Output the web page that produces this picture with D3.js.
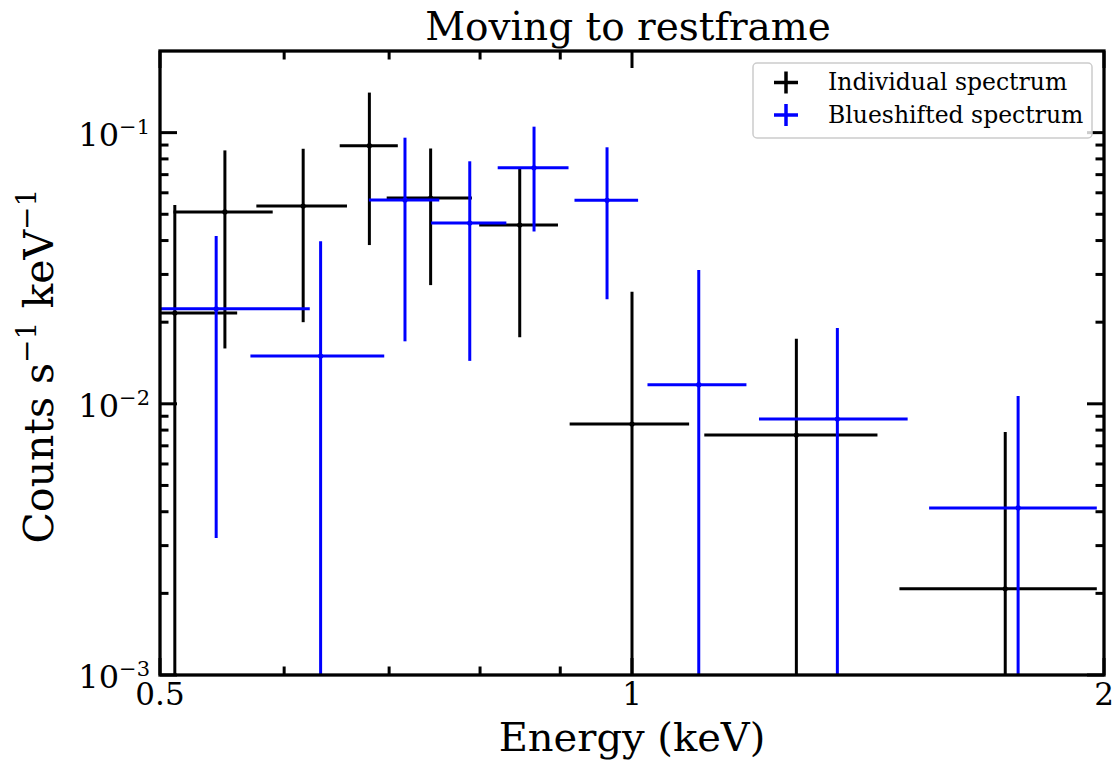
<!DOCTYPE html>
<html><head><meta charset="utf-8">
<script src="https://cdn.jsdelivr.net/npm/d3@7"></script>
<style>
body{margin:0;background:#fff}
svg{display:block}
text{font-family:"DejaVu Serif",serif;fill:#000}
</style>
</head><body>
<svg id="chart" width="1117" height="761"></svg>
<script>
// ---- data ----
const indivEnergy    = [0.511, 0.550, 0.617, 0.680, 0.744, 0.848, 1.000, 1.273, 1.730];
const indivEnergyErr = [0.049, 0.040, 0.041, 0.029, 0.0465, 0.049, 0.0875, 0.161, 0.249];
const indivCounts    = [0.0216, 0.0510, 0.0536, 0.0895, 0.0574, 0.0456, 0.00842, 0.00767, 0.00208];
const indivCountsErr = [0.0325, 0.035, 0.0336, 0.051, 0.030, 0.028, 0.0175, 0.0097, 0.0058];

const blueEnergy    = [0.543, 0.633, 0.7165, 0.788, 0.866, 0.964, 1.103, 1.352, 1.763];
const blueEnergyErr = [0.080, 0.062, 0.037, 0.0435, 0.045, 0.045, 0.080, 0.147, 0.216];
const blueCounts    = [0.0224, 0.0150, 0.0564, 0.0464, 0.0742, 0.0563, 0.01176, 0.00879, 0.00413];
const blueCountsErr = [0.0192, 0.0248, 0.0394, 0.032, 0.031, 0.032, 0.0194, 0.01025, 0.00656];

const seriesNames  = ["Individual spectrum", "Blueshifted spectrum"];
const seriesColors = ["#000000", "#0000ff"];

const xTickValues = [0.5, 1, 2];
const xTickLabels = ["0.5", "1", "2"];
const xMinorTicks = [0.6, 0.7, 0.8, 0.9];
const yMajorTicks = [1e-3, 1e-2, 1e-1];
const yTickExponents = ["\u22123", "\u22122", "\u22121"];

const titleText = "Moving to restframe";
const xLabelText = "Energy (keV)";

// ---- layout ----
const W = 1117, H = 761;
const m = {left: 160, top: 51, right: 13, bottom: 86};
const iw = W - m.left - m.right, ih = H - m.top - m.bottom;

const svg = d3.select("#chart");
const g = svg.append("g").attr("transform", `translate(${m.left},${m.top})`);

const x = d3.scaleLog().domain([0.5, 2]).range([0, iw]);
const y = d3.scaleLog().domain([1e-3, 0.2]).range([ih, 0]);

svg.append("defs").append("clipPath").attr("id", "clip")
  .append("rect").attr("x", 0).attr("y", 0).attr("width", iw).attr("height", ih);

// ---- ticks (inward, all four sides) ----
const yMinor = [];
for (let d = -3; d <= -1; d++) for (let s = 2; s <= 9; s++) {
  const v = s * Math.pow(10, d);
  if (v < 0.2) yMinor.push(v);
}
const tickG = g.append("g").attr("stroke", "#000").attr("stroke-width", 3);
const MAJ = 17, MIN = 8.5;
xTickValues.forEach(v => {
  tickG.append("line").attr("x1", x(v)).attr("x2", x(v)).attr("y1", ih).attr("y2", ih - MAJ);
  tickG.append("line").attr("x1", x(v)).attr("x2", x(v)).attr("y1", 0).attr("y2", MAJ);
});
xMinorTicks.forEach(v => {
  tickG.append("line").attr("x1", x(v)).attr("x2", x(v)).attr("y1", ih).attr("y2", ih - MIN);
  tickG.append("line").attr("x1", x(v)).attr("x2", x(v)).attr("y1", 0).attr("y2", MIN);
});
yMajorTicks.forEach(v => {
  tickG.append("line").attr("y1", y(v)).attr("y2", y(v)).attr("x1", 0).attr("x2", MAJ);
  tickG.append("line").attr("y1", y(v)).attr("y2", y(v)).attr("x1", iw).attr("x2", iw - MAJ);
});
yMinor.forEach(v => {
  tickG.append("line").attr("y1", y(v)).attr("y2", y(v)).attr("x1", 0).attr("x2", MIN);
  tickG.append("line").attr("y1", y(v)).attr("y2", y(v)).attr("x1", iw).attr("x2", iw - MIN);
});

// ---- error bars ----
function drawSeries(E, Eerr, C, Cerr, color) {
  const sg = g.append("g").attr("clip-path", "url(#clip)").attr("stroke", color).attr("stroke-width", 3);
  E.forEach((e, i) => {
    const lo = C[i] - Cerr[i];
    const yLo = lo > 0 ? y(lo) : ih + 20;
    sg.append("line").attr("x1", x(e)).attr("x2", x(e))
      .attr("y1", y(C[i] + Cerr[i])).attr("y2", yLo);
    sg.append("line").attr("y1", y(C[i])).attr("y2", y(C[i]))
      .attr("x1", x(e - Eerr[i])).attr("x2", x(e + Eerr[i]));
    sg.append("circle").attr("cx", x(e)).attr("cy", y(C[i])).attr("r", 2.6)
      .attr("fill", color).attr("stroke", "none");
  });
}
drawSeries(indivEnergy, indivEnergyErr, indivCounts, indivCountsErr, seriesColors[0]);
drawSeries(blueEnergy, blueEnergyErr, blueCounts, blueCountsErr, seriesColors[1]);

// ---- frame ----
g.append("rect").attr("x", 0).attr("y", 0).attr("width", iw).attr("height", ih)
  .attr("fill", "none").attr("stroke", "#000").attr("stroke-width", 3.3);

// ---- tick labels ----
xTickValues.forEach((v, i) => {
  g.append("text").attr("x", x(v)).attr("y", ih + 30).attr("text-anchor", "middle")
    .attr("font-size", 31).text(xTickLabels[i]);
});
yMajorTicks.forEach((v, i) => {
  const t = g.append("text").attr("x", -10).attr("y", y(v) + 13).attr("text-anchor", "end")
    .attr("font-size", 32);
  t.append("tspan").text("10");
  t.append("tspan").attr("font-size", 21).attr("dy", -12).text(yTickExponents[i]);
});

// ---- titles ----
svg.append("text").attr("x", 628).attr("y", 40).attr("text-anchor", "middle")
  .attr("font-size", 39).text(titleText);
svg.append("text").attr("x", m.left + iw / 2).attr("y", 751).attr("text-anchor", "middle")
  .attr("font-size", 40).text(xLabelText);
const yl = svg.append("text").attr("transform", `translate(53,366) rotate(-90)`)
  .attr("text-anchor", "middle").attr("font-size", 41);
yl.append("tspan").text("Counts s");
yl.append("tspan").attr("font-size", 28).attr("dy", -17).text("\u22121");
yl.append("tspan").attr("dy", 17).text(" keV");
yl.append("tspan").attr("font-size", 28).attr("dy", -17).text("\u22121");

// ---- legend ----
const lg = svg.append("g").attr("transform", "translate(753,63)");
lg.append("rect").attr("width", 339).attr("height", 75).attr("rx", 4)
  .attr("fill", "#fff").attr("fill-opacity", 0.8).attr("stroke", "#cccccc").attr("stroke-width", 1.5);
seriesNames.forEach((name, i) => {
  const cy = 19.5 + i * 32.5;
  const cx = 33;
  lg.append("line").attr("x1", cx - 12).attr("x2", cx + 12).attr("y1", cy).attr("y2", cy)
    .attr("stroke", seriesColors[i]).attr("stroke-width", 3.5);
  lg.append("line").attr("x1", cx).attr("x2", cx).attr("y1", cy - 11).attr("y2", cy + 11)
    .attr("stroke", seriesColors[i]).attr("stroke-width", 3.5);
  lg.append("text").attr("x", 75).attr("y", cy + 7.5).attr("font-size", 23.5).text(name);
});
</script>
</body></html>
